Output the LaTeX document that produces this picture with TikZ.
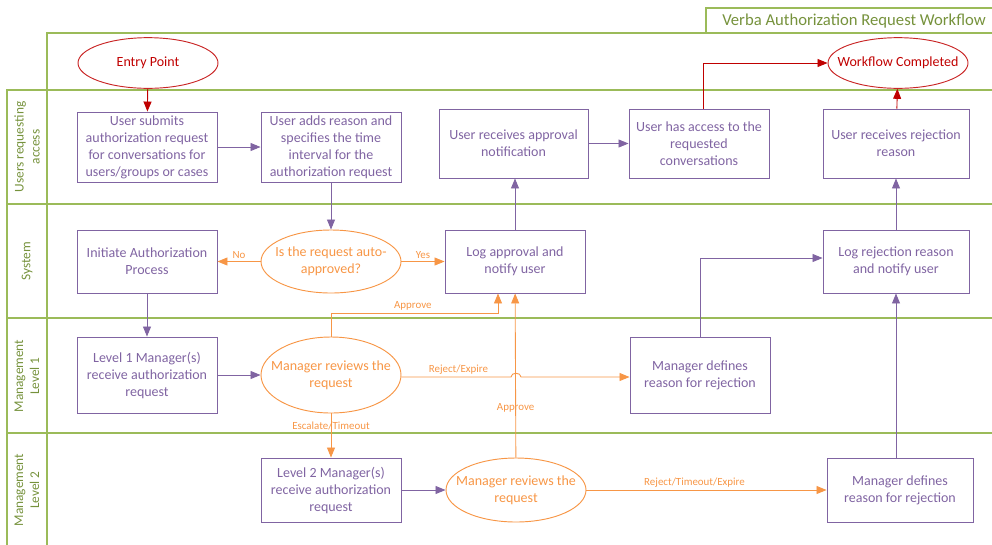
\documentclass[tikz,border=0pt]{standalone}
\usepackage{fontspec}
\setmainfont{Carlito}
\usetikzlibrary{arrows.meta,shapes.geometric}
\definecolor{lanegreen}{RGB}{155,187,89}
\definecolor{titlegreen}{RGB}{118,146,60}
\definecolor{flowpurple}{RGB}{128,100,162}
\definecolor{floworange}{RGB}{247,150,70}
\definecolor{flowred}{RGB}{192,0,0}

\begin{document}
\begin{tikzpicture}[x=0.75pt,y=0.75pt,yscale=-1,xscale=1,
  lane/.style={draw=lanegreen,line width=0.9pt},
  procbox/.style={draw=flowpurple,line width=0.7pt,text=flowpurple,align=center,
    minimum width=105pt,minimum height=48pt,inner sep=1pt,
    font=\fontsize{10.5}{12.75}\selectfont},
  decide/.style={ellipse,draw=floworange,line width=0.7pt,text=floworange,align=center,
    minimum width=105pt,minimum height=48pt,inner xsep=-9pt,inner ysep=0pt,
    font=\fontsize{10.5}{12.75}\selectfont},
  terminal/.style={ellipse,draw=flowred!85!white,line width=0.7pt,text=flowred,
    minimum width=105pt,minimum height=38pt,inner xsep=-12pt,
    font=\fontsize{10.5}{12.75}\selectfont},
  lanelabel/.style={rotate=90,text=titlegreen,align=center,
    font=\fontsize{10}{12}\selectfont},
  flowlabel/.style={text=floworange,inner sep=1pt,font=\fontsize{8.2}{9}\selectfont},
  purplearrow/.style={draw=flowpurple,line width=0.65pt,-{Triangle[length=7.5pt,width=6pt]}},
  orangearrow/.style={draw=floworange,line width=0.65pt,-{Triangle[length=7.5pt,width=6pt]}},
  redarrow/.style={draw=flowred,line width=0.65pt,-{Triangle[length=7.5pt,width=6pt]}}
]
\useasboundingbox (0,0) rectangle (992,544);

%Pool and lanes
\draw [lane] (706,33) -- (706,8) -- (995,8) ;
\draw [lane] (47,548) -- (47,33) -- (995,33) ;
\draw [lane] (7,548) -- (7,90) -- (995,90) ;
\draw [lane] (7,204) -- (995,204) ;
\draw [lane] (7,318) -- (995,318) ;
\draw [lane] (7,433) -- (995,433) ;

% Text Node
\node [text=titlegreen,font=\fontsize{12.5}{14}\selectfont] (title) at (854,21) {Verba Authorization Request Workflow};
\node [lanelabel] (laneusers) at (27,147) {Users requesting\\access};
\node [lanelabel] (lanesys) at (27,261) {System};
\node [lanelabel] (lanemgr1) at (27,376) {Management\\Level 1};
\node [lanelabel] (lanemgr2) at (27,490) {Management\\Level 2};

%Shapes
\node [terminal] (entry) at (148,63) {Entry Point};
\node [terminal] (done) at (898,63) {Workflow Completed};

\node [procbox,minimum height=52.5pt] (submit) at (147,147) {User submits\\authorization request\\for conversations for\\users/groups or cases};
\node [procbox,minimum height=52.5pt] (addreason) at (331,147) {User adds reason and\\specifies the time\\interval for the\\authorization request};
\node [procbox,minimum width=111.75pt,minimum height=51.75pt] (gotapproval) at (513.5,143.5) {User receives approval\\notification};
\node [procbox,minimum height=51.75pt] (hasaccess) at (699,143.5) {User has access to the\\requested\\conversations};
\node [procbox,minimum width=109.5pt,minimum height=51.75pt] (gotreject) at (896,143.5) {User receives rejection\\reason};

\node [procbox,minimum height=47.25pt] (initiate) at (147,261.5) {Initiate Authorization\\Process};
\node [decide,minimum height=47.25pt] (autoq) at (331,261.5) {Is the request auto-\\approved?};
\node [procbox,minimum height=47.25pt] (logapprove) at (515,261.5) {Log approval and\\notify user};
\node [procbox,minimum width=109.5pt,minimum height=47.25pt] (logreject) at (896,261.5) {Log rejection reason\\and notify user};

\node [procbox,minimum height=57pt] (lvlone) at (147,375) {Level 1 Manager(s)\\receive authorization\\request};
\node [decide,minimum height=57pt] (reviewone) at (331,375) {Manager reviews the\\request};
\node [procbox,minimum height=57pt] (defineone) at (700,375) {Manager defines\\reason for rejection};

\node [procbox] (lvltwo) at (331,490) {Level 2 Manager(s)\\receive authorization\\request};
\node [decide] (reviewtwo) at (516,490) {Manager reviews the\\request};
\node [procbox,minimum width=109.5pt] (definetwo) at (900,490) {Manager defines\\reason for rejection};

%Connectors
\draw [redarrow] (entry) -- (submit) ;
\draw [purplearrow] (submit) -- (addreason) ;
\draw [purplearrow] (addreason) -- (autoq) ;
\draw [orangearrow] (autoq) -- node [flowlabel,above=1pt] {No} (initiate) ;
\draw [orangearrow] (autoq) -- node [flowlabel,above=1pt] {Yes} (logapprove) ;
\draw [purplearrow] (initiate) -- (lvlone) ;
\draw [purplearrow] (lvlone) -- (reviewone) ;
\draw [orangearrow] (reviewone.north) -- (331,313) -- node [flowlabel,above=1pt,pos=0.49] {Approve} (498,313) -- (logapprove.south -| 498,0) ;
\draw [orangearrow] (reviewone.east |- 0,377) -- node [flowlabel,above=1pt,pos=0.52] {Reject/Expire} (511,377) .. controls (511,372) and (521,372) .. (521,377) -- (defineone.west |- 0,377) ;
\draw [orangearrow] (reviewone) -- node [flowlabel,pos=0.29] {Escalate/Timeout} (lvltwo) ;
\draw [purplearrow] (lvltwo) -- (reviewtwo) ;
\draw [orangearrow] (reviewtwo) -- node [flowlabel,pos=0.30] {Approve} (logapprove) ;
\draw [orangearrow] (reviewtwo) -- node [flowlabel,above=1pt,pos=0.45] {Reject/Timeout/Expire} (definetwo) ;
\draw [purplearrow] (defineone) |- (logreject.west |- 0,258) ;
\draw [purplearrow] (definetwo.north -| logreject) -- (logreject) ;
\draw [purplearrow] (logreject) -- (gotreject) ;
\draw [purplearrow] (logapprove) -- (gotapproval.south -| logapprove) ;
\draw [purplearrow] (gotapproval) -- (hasaccess) ;
\draw [redarrow] (hasaccess.north -| 703,0) |- (done) ;
\draw [redarrow] (gotreject) -- (done) ;

\end{tikzpicture}
\end{document}
